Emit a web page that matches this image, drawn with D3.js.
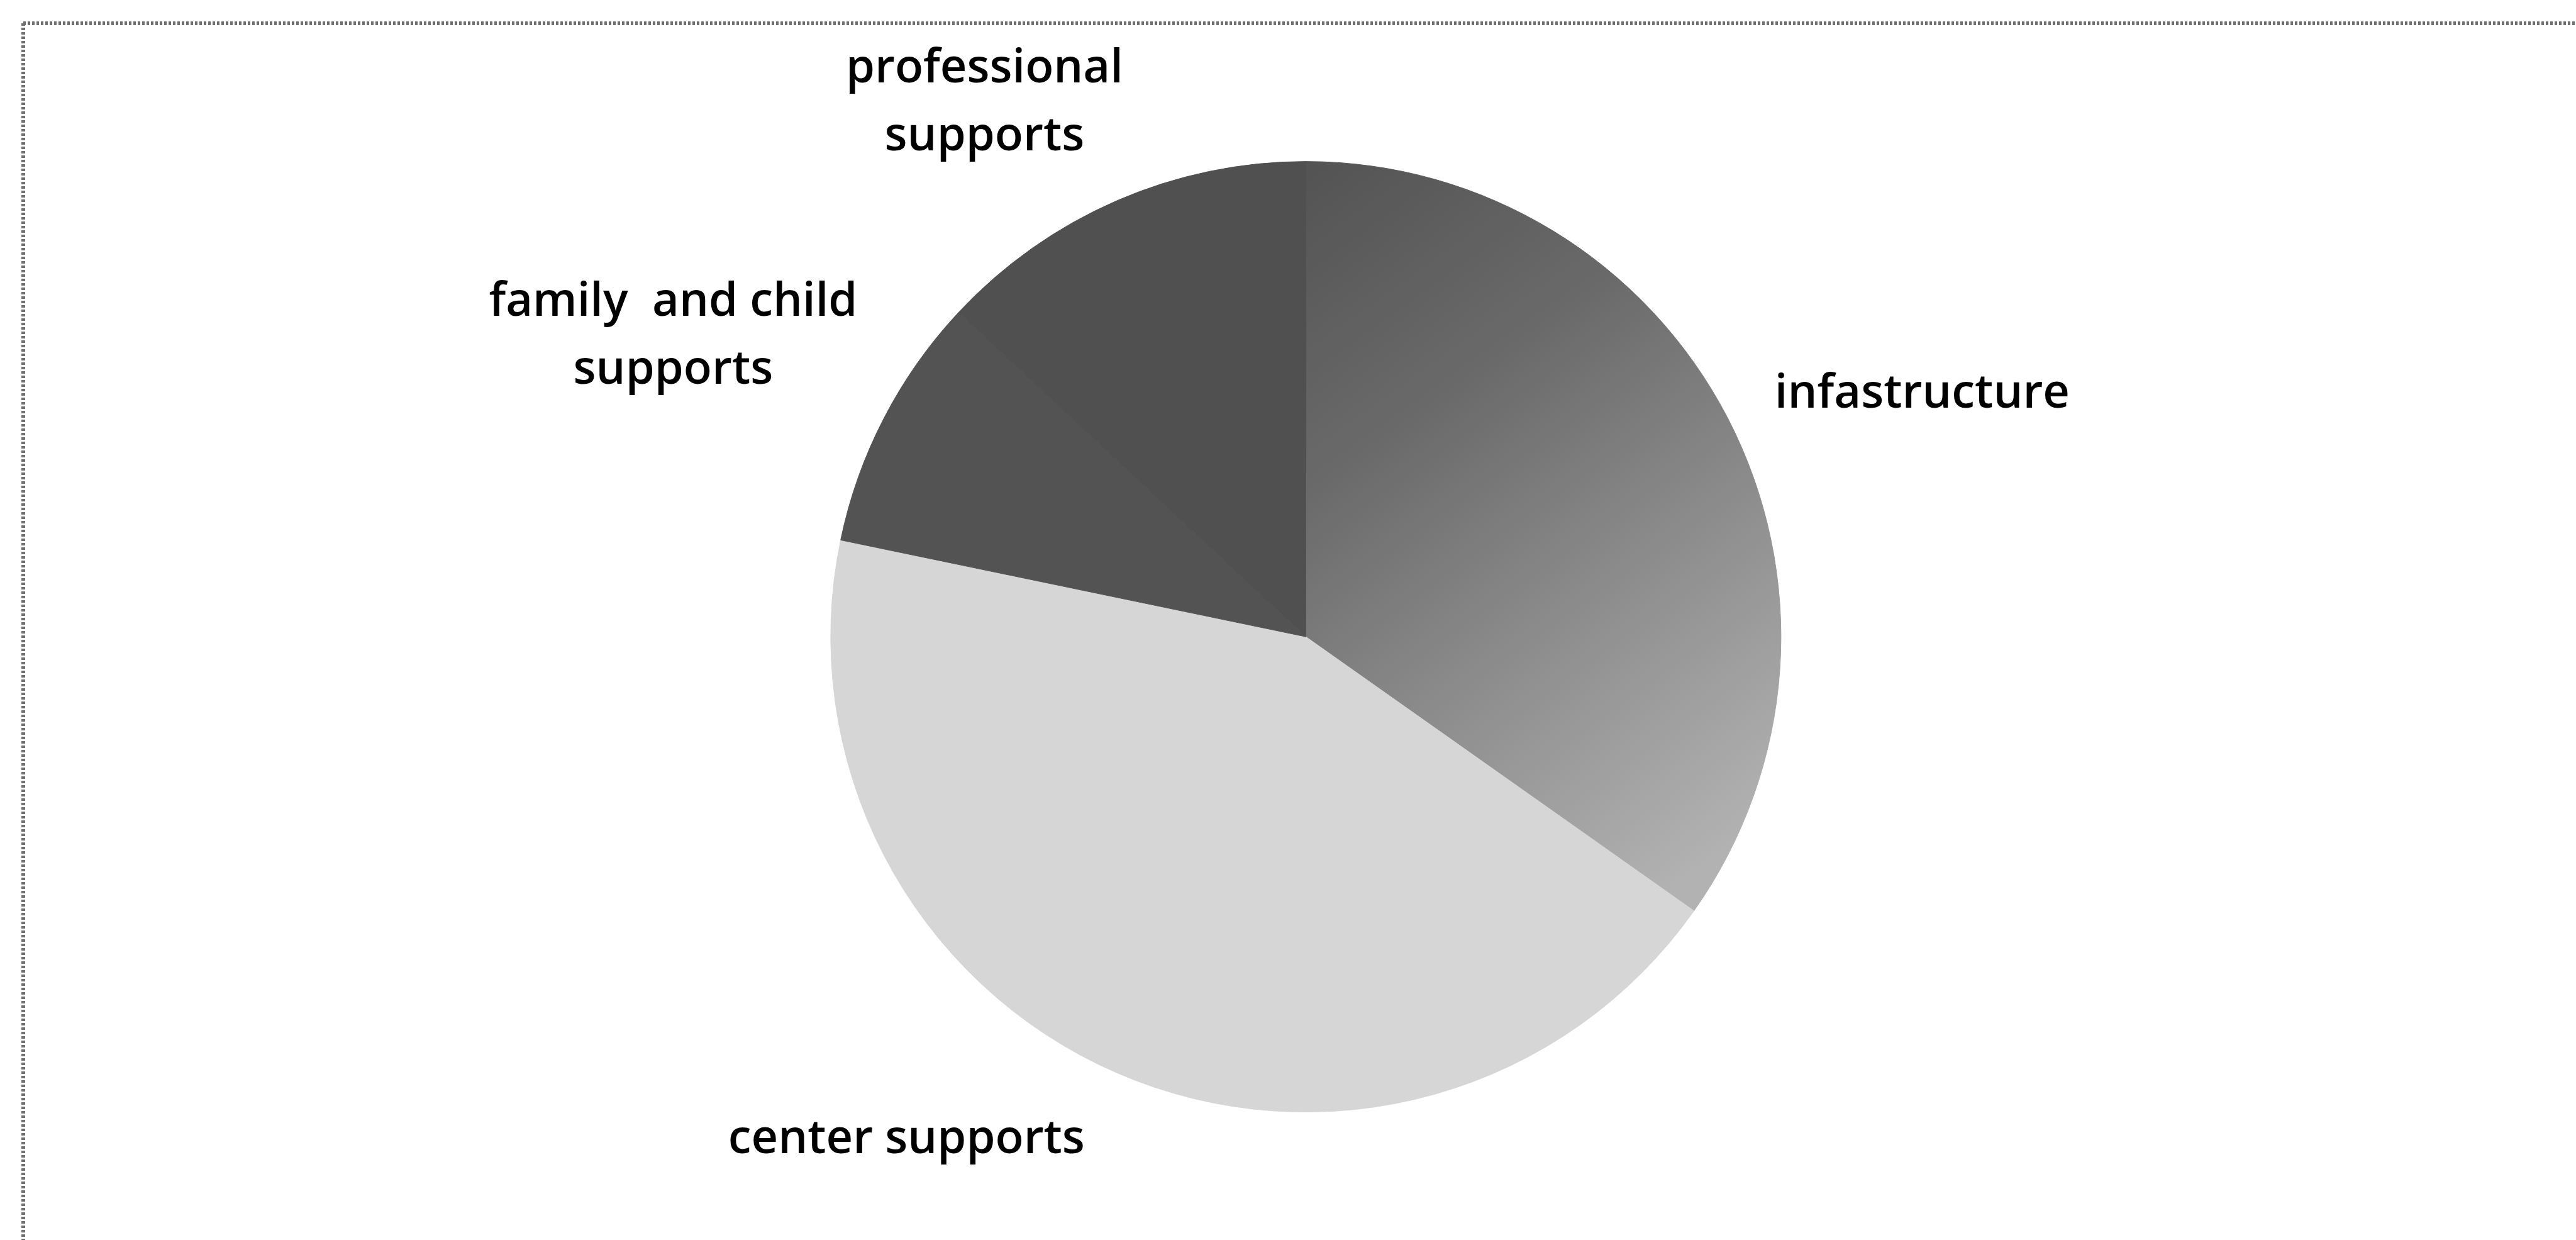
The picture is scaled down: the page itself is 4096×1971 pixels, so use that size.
<!DOCTYPE html>
<html>
<head>
<meta charset="utf-8">
<script src="https://cdn.jsdelivr.net/npm/d3@7"></script>
<style>
  html, body { margin: 0; padding: 0; background: #fff; overflow: hidden; }
</style>
</head>
<body>
<div id="chart"></div>
<script>
// slice order as Excel draws them, clockwise from 12 o'clock
const categories = ["infastructure", "center supports", "family  and child supports", "professional supports"];
const values = [8, 10, 2, 3];
const labelLines = [
  ["infastructure"],
  ["center supports"],
  ["family  and child", "supports"],
  ["professional", "supports"]
];

const width = 4096;
const height = 1971;
const k = 0.802; // reference px -> page px

const cx = 2589 * k;
const cy = 1262 * k;
const radius = 942 * k;

// label block centres, relative to the pie centre (page px)
const labelOffset = [
  [980, -390],
  [-635, 795],
  [-1006, -482],
  [-511, -853]
];

const svg = d3.select("#chart")
  .append("svg")
  .attr("width", width)
  .attr("height", height)
  .style("display", "block")
  .style("background", "#fff");

const defs = svg.append("defs");

// gradient coords are in the pie group's space (centre = 0,0)
const grad = defs.append("linearGradient")
  .attr("id", "g-infra")
  .attr("gradientUnits", "userSpaceOnUse")
  .attr("x1", -radius * 0.05)
  .attr("y1", -radius)
  .attr("x2", radius * 0.95)
  .attr("y2", radius * 0.4);
grad.append("stop").attr("offset", "0%").attr("stop-color", "#525252");
grad.append("stop").attr("offset", "35%").attr("stop-color", "#6a6a6a");
grad.append("stop").attr("offset", "100%").attr("stop-color", "#b2b2b2");

const fills = ["url(#g-infra)", "#d6d6d6", "#535353", "#505050"];

// chart area border (only top and left fall inside the picture)
const border = svg.append("g")
  .attr("stroke", "#707070")
  .attr("stroke-width", 6)
  .attr("stroke-dasharray", "4 3");
border.append("line")
  .attr("x1", 37).attr("y1", 37)
  .attr("x2", width).attr("y2", 37);
border.append("line")
  .attr("x1", 37).attr("y1", 37)
  .attr("x2", 37).attr("y2", height);

const pie = d3.pie().sort(null).value(d => d);
const arc = d3.arc().innerRadius(0).outerRadius(radius);

const g = svg.append("g")
  .attr("transform", `translate(${cx},${cy})`);

g.selectAll("path")
  .data(pie(values))
  .enter().append("path")
  .attr("d", arc)
  .attr("fill", (d, i) => fills[i])
  .attr("stroke", (d, i) => fills[i])
  .attr("stroke-width", 1);

const labels = g.selectAll("text")
  .data(categories)
  .enter().append("text")
  .attr("text-anchor", "middle")
  .attr("font-family", "'Open Sans', sans-serif")
  .attr("font-size", "74px")
  .attr("font-weight", 600)
  .attr("fill", "#000")
  .attr("transform", (d, i) => `translate(${labelOffset[i][0]},${labelOffset[i][1]})`);

labels.each(function(d, i) {
  const lines = labelLines[i];
  const lineH = 108;
  const t = d3.select(this);
  lines.forEach((line, j) => {
    t.append("tspan")
      .attr("x", 0)
      .attr("y", (j - (lines.length - 1) / 2) * lineH + 26)
      .style("white-space", "pre")
      .text(line);
  });
});
</script>
</body>
</html>
